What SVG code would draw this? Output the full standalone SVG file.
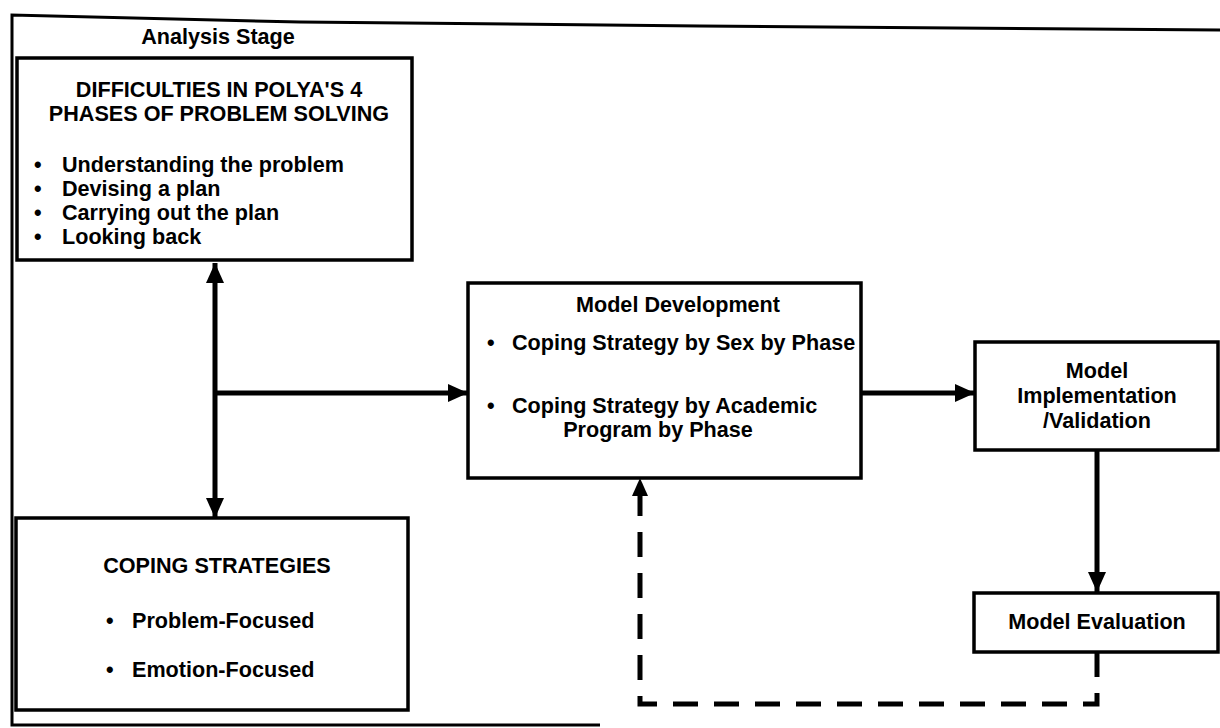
<svg xmlns="http://www.w3.org/2000/svg" width="1220" height="728" viewBox="0 0 1220 728">
<defs>
<style>
text{font-family:"Liberation Sans",Arial,sans-serif;font-weight:bold;font-size:21.6px;fill:#000}
.c{text-anchor:middle}
.box{fill:#fff;stroke:#000;stroke-width:3.5}
.ln{fill:none;stroke:#000;stroke-width:5}
.dash{fill:none;stroke:#000;stroke-width:5;stroke-dasharray:25 16}
</style>
<marker id="ah" markerUnits="userSpaceOnUse" markerWidth="20" markerHeight="20" viewBox="0 0 20 20" refX="20" refY="10" orient="auto-start-reverse">
<path d="M0,1 L20,10 L0,19 Z" fill="#000"/>
</marker>
</defs>
<rect width="1220" height="728" fill="#fff"/>
<g id="analysis-stage">
<path d="M600,725 L12,725 L12,15 L300,22 L700,26 L1220,30" fill="none" stroke="#000" stroke-width="3"/>
<text x="218" y="44" class="c">Analysis Stage</text>
</g>
<g id="connectors">
<line class="ln" x1="215" y1="263" x2="215" y2="518" marker-start="url(#ah)" marker-end="url(#ah)"/>
<line class="ln" x1="215" y1="393" x2="468" y2="393" marker-end="url(#ah)"/>
<line class="ln" x1="861" y1="393" x2="975" y2="393" marker-end="url(#ah)"/>
<line class="ln" x1="1097" y1="450" x2="1097" y2="592" marker-end="url(#ah)"/>
<path class="dash" d="M1097,652 L1097,704 L640,704 L640,490"/>
<path d="M640,478 L632,496 L648,496 Z" fill="#000"/>
</g>
<g id="difficulties">
<rect class="box" x="17" y="58" width="395" height="202"/>
<text x="219" y="97" class="c">DIFFICULTIES IN POLYA'S 4</text>
<text x="219" y="121" class="c">PHASES OF PROBLEM SOLVING</text>
<text x="34" y="172">•</text><text x="62" y="172">Understanding the problem</text>
<text x="34" y="196">•</text><text x="62" y="196">Devising a plan</text>
<text x="34" y="220">•</text><text x="62" y="220">Carrying out the plan</text>
<text x="34" y="244">•</text><text x="62" y="244">Looking back</text>
</g>
<g id="coping-strategies">
<rect class="box" x="16" y="518" width="392" height="192"/>
<text x="217" y="573" class="c">COPING STRATEGIES</text>
<text x="106" y="628">•</text><text x="132" y="628">Problem-Focused</text>
<text x="106" y="677">•</text><text x="132" y="677">Emotion-Focused</text>
</g>
<g id="model-development">
<rect class="box" x="468" y="283" width="393" height="195"/>
<text x="678" y="312" class="c">Model Development</text>
<text x="487" y="350">•</text><text x="512" y="350">Coping Strategy by Sex by Phase</text>
<text x="487" y="413">•</text><text x="512" y="413">Coping Strategy by Academic</text>
<text x="658" y="437" class="c">Program by Phase</text>
</g>
<g id="model-implementation">
<rect class="box" x="975" y="342" width="243" height="108"/>
<text x="1097" y="378" class="c">Model</text>
<text x="1097" y="403" class="c">Implementation</text>
<text x="1097" y="428" class="c">/Validation</text>
</g>
<g id="model-evaluation">
<rect class="box" x="974" y="593" width="244" height="59"/>
<text x="1097" y="629" class="c">Model Evaluation</text>
</g>
</svg>
